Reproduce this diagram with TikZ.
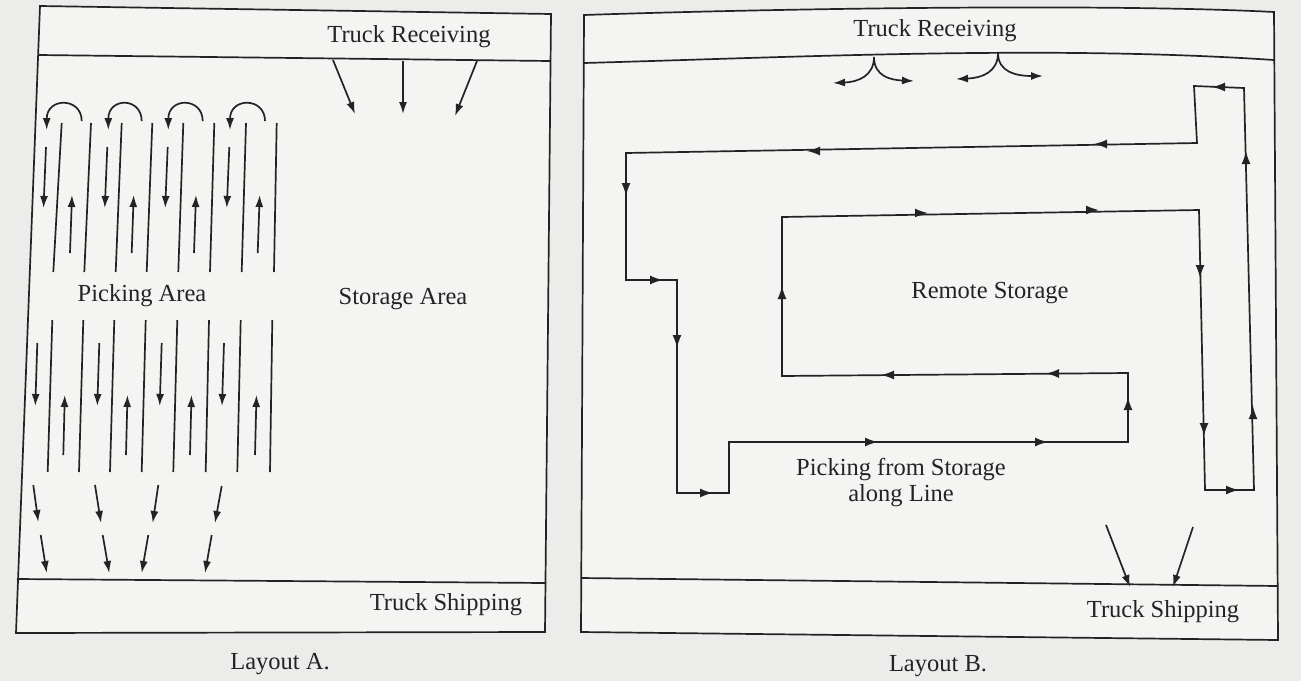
\documentclass[tikz,border=0pt]{standalone}
\usepackage{fontspec}
\setmainfont{Liberation Serif}
\usetikzlibrary{arrows.meta}
\definecolor{ink}{RGB}{35,35,35}
\definecolor{paper}{RGB}{236,237,235}
\definecolor{panel}{RGB}{244,245,243}
\tikzset{
  ln/.style={draw=ink, line width=1.7pt},
  tip/.style={ln, -{Latex[length=12pt,width=8pt]}},
  midarr/.style={ln, -{Latex[length=13pt,width=9pt]}},
  lbl/.style={text=ink, font=\fontsize{24.5}{26}\selectfont, inner sep=0pt, align=center}
}
\newcommand\mtip[4]{\draw[midarr] ({#1-#3},{#2-#4}) -- ({#1+#3},{#2+#4});}
\begin{document}
\begin{tikzpicture}[x=1pt,y=-1pt]
\useasboundingbox (0,0) rectangle (1301,681);
\fill[paper] (0,0) rectangle (1301,681);

% ---------------- Layout A ----------------
\fill[panel] (40,6) -- (551,14) -- (545,632) -- (16,633) -- cycle;
\draw[ln] (40,6) -- (551,14) -- (545,632) -- (16,633) -- cycle;
\draw[ln] (39,55) -- (550,61);
\draw[ln] (17,579) -- (546,583);

\node[lbl] (recA) at (409,37) {Truck Receiving};
\node[lbl] (pick) at (142,296) {Picking Area};
\node[lbl] (stor) at (403,299) {Storage Area};
\node[lbl] (shipA) at (446,605) {Truck Shipping};
\node[lbl] (layA) at (280,664) {Layout A.};

% receiving arrows
\draw[tip] (333,60) -- (355,114);
\draw[tip] (403,61) -- (403,114);
\draw[tip] (477,61) -- (455,116);

% upper racks
\foreach \a/\b in {61.7/53.3, 91/84.3, 121.7/115.7, 152.3/146.7, 183.3/178.3, 214.3/210, 246/241.7, 276.7/274}
  \draw[ln] (\a,123) -- (\b,272);
% upper aisle arrows
\foreach \d/\u in {46/70, 107.3/131.7, 167.7/194, 229.3/257.7} {
  \draw[tip] (\d,147) -- ({\d-2.5},208);
  \draw[tip] (\u,253) -- ({\u+2},195);
}
% U-turns
\foreach \s/\e in {81.7/46.7, 141.7/108.3, 202.7/168.3, 265/230}
  \draw[tip] (\s,121) .. controls (\s,97) and (\e,97) .. (\e,130);

% lower racks
\foreach \a/\b in {52.3/47.7, 83.3/79, 114.3/110, 145.7/141.7, 177.3/173.3, 209/205.7, 240.7/237.3, 272.3/270}
  \draw[ln] (\a,320) -- (\b,472);
\foreach \d/\u in {37.3/63.3, 99.3/126, 161.7/190, 224/255} {
  \draw[tip] (\d,343) -- ({\d-2},406);
  \draw[tip] (\u,455) -- ({\u+1.5},395);
}
% shipping arrows
\draw[tip] (33.3,485) -- (38.3,522);
\draw[tip] (95,485) -- (101,523);
\draw[tip] (158.3,485) -- (152.7,523);
\draw[tip] (221.7,486) -- (215,523);
\draw[tip] (40.7,535) -- (46.7,573);
\draw[tip] (102.7,535) -- (109.3,573);
\draw[tip] (148.3,535) -- (141.7,573);
\draw[tip] (211.7,535) -- (205,573);

% ---------------- Layout B ----------------
\fill[panel] (584,15) .. controls (760,9) and (1100,3) .. (1274,12) -- (1278,640) -- (581,632) -- cycle;
\draw[ln] (584,15) .. controls (760,9) and (1100,3) .. (1274,12) -- (1278,640) -- (581,632) -- cycle;
\draw[ln] (584,63) .. controls (800,57) and (1050,45) .. (1274,60);
\draw[ln] (581,578) -- (1278,586);

\node[lbl] (recB) at (935,31) {Truck Receiving};
\node[lbl] (remote) at (990,293) {Remote Storage};
\node[lbl] (line) at (901,483) {Picking from Storage\\[0pt]along Line};
\node[lbl] (shipB) at (1163,612) {Truck Shipping};
\node[lbl] (layB) at (938,666) {Layout B.};

% receiving split arrows
\draw[tip] (874,57) .. controls (874,76) and (858,82) .. (833,83);
\draw[tip] (874,57) .. controls (874,76) and (890,80) .. (914,81);
\draw[tip] (998,53) .. controls (998,72) and (982,78) .. (956,79);
\draw[tip] (998,53) .. controls (998,72) and (1016,76) .. (1043,76);

% picking route
\draw[ln] (1205,490) -- (1254,490) -- (1244,88) -- (1194,86) -- (1197,143)
  -- (626,153) -- (626,280) -- (677,280) -- (677,493) -- (729,493)
  -- (729,442) -- (1128,442) -- (1128,373) -- (782,376) -- (782,217)
  -- (1199,210) -- cycle;
\mtip{1218}{87}{-6}{0}
\mtip{1246}{157}{0}{-6}
\mtip{1253}{412}{0}{-6}
\mtip{1200}{272}{0}{6}
\mtip{1204}{430}{0}{6}
\mtip{1233}{490}{6}{0}
\mtip{1100}{144}{-6}{0}
\mtip{813}{151}{-6}{0}
\mtip{626}{190}{0}{6}
\mtip{657}{280}{6}{0}
\mtip{677}{342}{0}{6}
\mtip{707}{493}{6}{0}
\mtip{872}{442}{6}{0}
\mtip{1042}{442}{6}{0}
\mtip{1128}{403}{0}{-6}
\mtip{1052}{373.5}{-6}{0}
\mtip{887}{375}{-6}{0}
\mtip{782}{292}{0}{-6}
\mtip{922}{213}{6}{0}
\mtip{1093}{210}{6}{0}

% shipping arrows
\draw[tip] (1106,525) -- (1130,587);
\draw[tip] (1193,527) -- (1173,587);
\end{tikzpicture}
\end{document}
